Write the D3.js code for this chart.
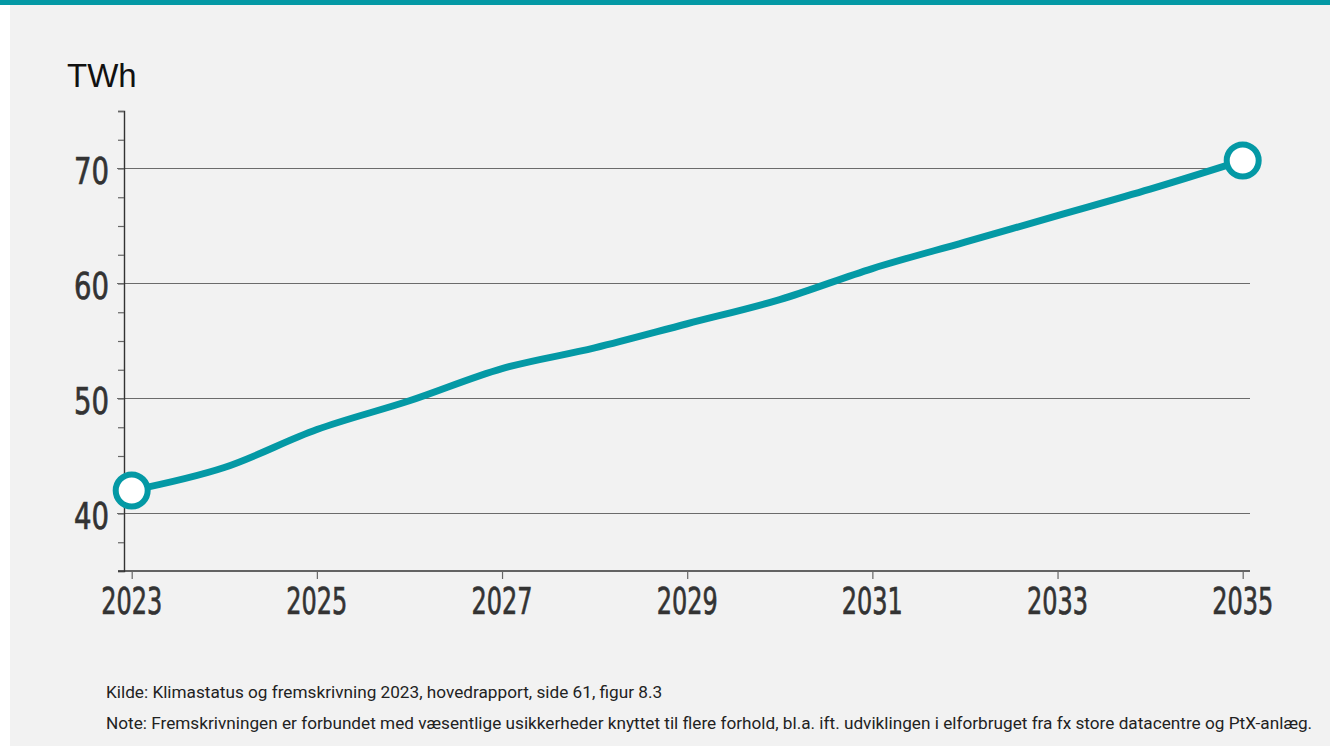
<!DOCTYPE html>
<html>
<head>
<meta charset="utf-8">
<script src="https://cdn.jsdelivr.net/npm/d3@7"></script>
<style>
  html, body { margin: 0; padding: 0; background: #fff; }
  svg { display: block; }
</style>
</head>
<body>
<script>
const years = [2023, 2024, 2025, 2026, 2027, 2028, 2029, 2030, 2031, 2032, 2033, 2034, 2035];
const twh = [42.0, 44.0, 47.3, 49.8, 52.6, 54.4, 56.5, 58.6, 61.3, 63.6, 65.9, 68.2, 70.7];
const xTickYears = [2023, 2025, 2027, 2029, 2031, 2033, 2035];
const yMajorTicks = [40, 50, 60, 70];
const yUnit = "TWh";
const sourceText = "Kilde: Klimastatus og fremskrivning 2023, hovedrapport, side 61, figur 8.3";
const noteText = "Note: Fremskrivningen er forbundet med væsentlige usikkerheder knyttet til flere forhold, bl.a. ift. udviklingen i elforbruget fra fx store datacentre og PtX-anlæg.";

const width = 1330, height = 746;
const teal = "#0499a5";
// no condensed web font offline, so squeeze the tick labels with textLength
const tickFont = "'DejaVu Sans Condensed', 'DejaVu Sans', sans-serif";

const svg = d3.select("body").append("svg")
  .attr("width", width)
  .attr("height", height);

// background + top bar
svg.append("rect").attr("x", 10).attr("y", 0).attr("width", width - 10).attr("height", height).attr("fill", "#f2f2f2");
svg.append("rect").attr("x", 0).attr("y", 0).attr("width", width).attr("height", 5).attr("fill", teal);

const x = d3.scaleLinear().domain([2023, 2035]).range([131.7, 1242.7]);
const y = d3.scaleLinear().domain([35, 75]).range([571, 111]);

// gridlines
svg.append("g")
  .selectAll("line")
  .data(yMajorTicks)
  .join("line")
  .attr("x1", 117).attr("x2", 1250)
  .attr("y1", d => y(d)).attr("y2", d => y(d))
  .attr("stroke", "#6b6b6b")
  .attr("stroke-width", 1.2);

// y axis
const yAxis = svg.append("g")
  .attr("transform", "translate(124,0)")
  .call(d3.axisLeft(y).tickValues(d3.range(35, 75.1, 2.5)).tickSize(6).tickFormat(""));
yAxis.select(".domain").attr("stroke", "#333").attr("stroke-width", 1.4);
yAxis.selectAll(".tick line").attr("stroke", "#666").attr("stroke-width", 1.2);

svg.append("g")
  .selectAll("text")
  .data(yMajorTicks)
  .join("text")
  .attr("x", 109)
  .attr("y", d => y(d) + 15)
  .attr("text-anchor", "end")
  .attr("font-family", tickFont)
  .attr("font-size", 38)
  .attr("textLength", 35)
  .attr("lengthAdjust", "spacingAndGlyphs")
  .attr("fill", "#333")
  .attr("stroke", "#333")
  .attr("stroke-width", 0.7)
  .text(d => d);

// x axis
const xAxis = svg.append("g")
  .attr("transform", "translate(0,571)")
  .call(d3.axisBottom(x).tickValues(xTickYears).tickSize(8).tickFormat(""));
xAxis.select(".domain").attr("d", "M118,0H1250").attr("stroke", "#333").attr("stroke-width", 1.4);
xAxis.selectAll(".tick line").attr("stroke", "#666").attr("stroke-width", 1.2);

svg.append("g")
  .selectAll("text")
  .data(xTickYears)
  .join("text")
  .attr("x", d => x(d))
  .attr("y", 614)
  .attr("text-anchor", "middle")
  .attr("font-family", tickFont)
  .attr("font-size", 38)
  .attr("textLength", 61)
  .attr("lengthAdjust", "spacingAndGlyphs")
  .attr("fill", "#333")
  .attr("stroke", "#333")
  .attr("stroke-width", 0.7)
  .text(d => d);

// unit label
svg.append("text")
  .attr("x", 67).attr("y", 87)
  .attr("font-family", "'Liberation Sans', Arial, sans-serif")
  .attr("font-size", 33)
  .attr("fill", "#111")
  .text(yUnit);

// line
const pts = years.map((yr, i) => ({ year: yr, value: twh[i] }));
const line = d3.line()
  .x(d => x(d.year))
  .y(d => y(d.value))
  .curve(d3.curveMonotoneX);

svg.append("path")
  .datum(pts)
  .attr("d", line)
  .attr("fill", "none")
  .attr("stroke", teal)
  .attr("stroke-width", 7)
  .attr("stroke-linecap", "round");

// end markers
svg.append("g")
  .selectAll("circle")
  .data([pts[0], pts[pts.length - 1]])
  .join("circle")
  .attr("cx", d => x(d.year))
  .attr("cy", d => y(d.value))
  .attr("r", 16)
  .attr("fill", "#fff")
  .attr("stroke", teal)
  .attr("stroke-width", 6);

// footnotes
svg.append("text")
  .attr("x", 106).attr("y", 698)
  .attr("font-family", "Roboto, sans-serif")
  .attr("font-size", 17.2)
  .attr("fill", "#222")
  .text(sourceText);

svg.append("text")
  .attr("x", 106).attr("y", 729)
  .attr("font-family", "Roboto, sans-serif")
  .attr("font-size", 17.2)
  .attr("fill", "#222")
  .text(noteText);
</script>
</body>
</html>
